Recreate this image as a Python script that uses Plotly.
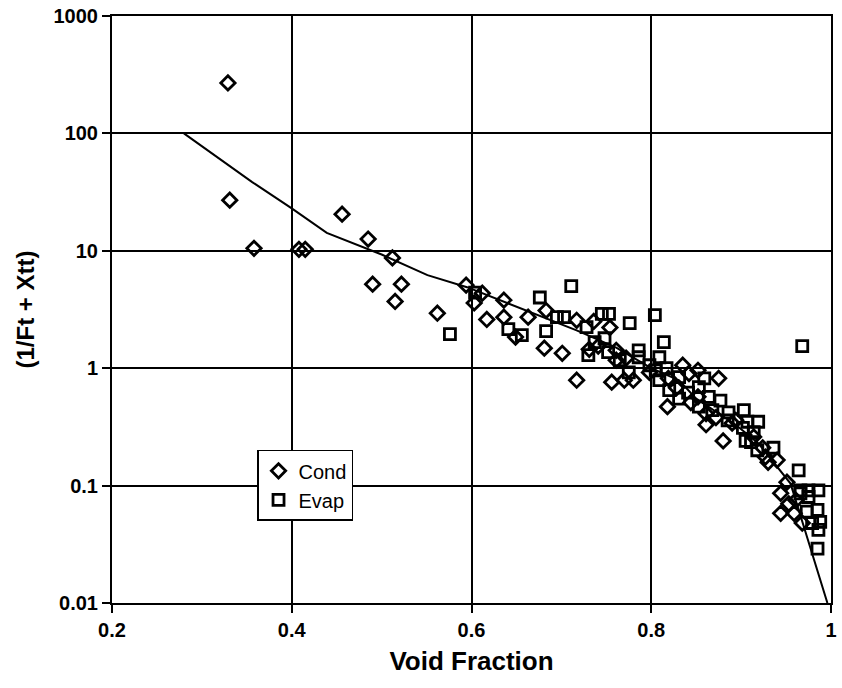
import plotly.graph_objects as go

# Cond (diamonds)
cond_x = [0.329, 0.331, 0.358, 0.408, 0.415, 0.456, 0.485, 0.512, 0.490, 0.522, 0.515, 0.562,
          0.594, 0.612, 0.603, 0.617, 0.636, 0.636, 0.649, 0.663, 0.683, 0.681, 0.701, 0.717,
          0.717, 0.736, 0.754, 0.731, 0.741, 0.761, 0.772, 0.761, 0.756, 0.770, 0.780, 0.798,
          0.819, 0.818, 0.828, 0.835, 0.842, 0.852, 0.875, 0.852, 0.844, 0.861, 0.861, 0.872,
          0.890, 0.880, 0.894, 0.914, 0.924, 0.927, 0.930, 0.940, 0.951, 0.944, 0.953, 0.961,
          0.944, 0.959, 0.968]
cond_y = [269, 27, 10.5, 10.3, 10.3, 20.5, 12.6, 8.7, 5.2, 5.2, 3.7, 2.94,
          5.1, 4.35, 3.6, 2.6, 3.8, 2.72, 1.84, 2.72, 3.1, 1.48, 1.34, 2.56,
          0.79, 2.5, 2.22, 1.45, 1.54, 1.42, 1.22, 1.17, 0.76, 0.79, 0.79, 0.92,
          0.82, 0.47, 0.68, 1.06, 0.9, 0.96, 0.82, 0.57, 0.51, 0.41, 0.33, 0.38,
          0.34, 0.24, 0.36, 0.26, 0.21, 0.175, 0.158, 0.165, 0.107, 0.086, 0.07, 0.075,
          0.058, 0.058, 0.048]

# Evap (squares)
evap_x = [0.576, 0.604, 0.641, 0.656, 0.676, 0.683, 0.711, 0.695, 0.703, 0.728, 0.745, 0.753,
          0.776, 0.804, 0.814, 0.748, 0.737, 0.730, 0.752, 0.765, 0.786, 0.786, 0.775, 0.798,
          0.809, 0.805, 0.817, 0.809, 0.820, 0.831, 0.859, 0.841, 0.853, 0.831, 0.864, 0.877,
          0.853, 0.868, 0.886, 0.903, 0.885, 0.907, 0.919, 0.902, 0.914, 0.905, 0.918, 0.911,
          0.936, 0.964, 0.968, 0.966, 0.975, 0.986, 0.966, 0.975, 0.985, 0.973, 0.988, 0.979,
          0.986, 0.985]
evap_y = [1.95, 4.4, 2.15, 1.91, 4.0, 2.07, 5.0, 2.72, 2.72, 2.24, 2.9, 2.9,
          2.42, 2.83, 1.67, 1.8, 1.67, 1.29, 1.37, 1.17, 1.42, 1.24, 0.92, 1.06,
          1.24, 0.96, 1.0, 0.79, 0.65, 0.84, 0.82, 0.62, 0.69, 0.55, 0.57, 0.53,
          0.47, 0.44, 0.42, 0.44, 0.36, 0.35, 0.35, 0.31, 0.285, 0.24, 0.2, 0.235,
          0.21, 0.135, 1.54, 0.091, 0.091, 0.091, 0.086, 0.08, 0.062, 0.06, 0.049, 0.048,
          0.042, 0.029]

# Correlation curve
line_x = [0.28, 0.356, 0.40, 0.439, 0.50, 0.551, 0.595, 0.717, 0.761, 0.80, 0.831, 0.85,
          0.894, 0.919, 0.955, 0.996]
line_y = [100, 38.5, 23, 14.2, 9.3, 6.2, 4.9, 2.1, 1.5, 1.0, 0.79, 0.55,
          0.33, 0.23, 0.104, 0.01]

x_ticks = [0.2, 0.4, 0.6, 0.8, 1.0]
x_ticklabels = ["0.2", "0.4", "0.6", "0.8", "1"]
y_ticks = [0.01, 0.1, 1, 10, 100, 1000]
y_ticklabels = ["0.01", "0.1", "1", "10", "100", "1000"]

FONT = "Liberation Sans, Arial, Helvetica, sans-serif"

fig = go.Figure()
fig.add_trace(go.Scatter(
    x=line_x, y=line_y, mode="lines", showlegend=False,
    line=dict(color="black", width=2)))
fig.add_trace(go.Scatter(
    x=cond_x, y=cond_y, mode="markers", name="Cond",
    marker=dict(symbol="diamond-open", size=11, color="black", line=dict(width=2.8, color="black"))))
fig.add_trace(go.Scatter(
    x=evap_x, y=evap_y, mode="markers", name="Evap",
    marker=dict(symbol="square-open", size=11, color="black", line=dict(width=2.8, color="black"))))

fig.update_layout(
    width=842, height=688,
    margin=dict(l=112, r=5, t=15, b=85),
    paper_bgcolor="white", plot_bgcolor="white",
    font=dict(family=FONT, color="black"),
    legend=dict(x=0.2017, y=0.261, xanchor="left", yanchor="top",
                bgcolor="white", bordercolor="black", borderwidth=1.5,
                font=dict(size=20, family=FONT, color="black"),
                itemwidth=30, tracegroupgap=0),
    xaxis=dict(range=[0.2, 1.0], tickvals=x_ticks, ticktext=x_ticklabels,
               showgrid=True, gridcolor="black", gridwidth=1.5,
               showline=True, linecolor="black", linewidth=2, mirror=True,
               ticks="outside", ticklen=8, tickwidth=1.5, tickcolor="black",
               tickfont=dict(size=20, family=FONT, weight="bold"),
               zeroline=False,
               title=dict(text="Void Fraction", font=dict(size=26, family=FONT, weight="bold"), standoff=12)),
    yaxis=dict(type="log", range=[-2, 3], tickvals=y_ticks, ticktext=y_ticklabels,
               showgrid=True, gridcolor="black", gridwidth=1.5,
               showline=True, linecolor="black", linewidth=2, mirror=True,
               ticks="outside", ticklen=8, tickwidth=1.5, tickcolor="black",
               tickfont=dict(size=20, family=FONT, weight="bold"),
               zeroline=False,
               title=dict(text="(1/Ft + Xtt)", font=dict(size=24, family=FONT, weight="bold"), standoff=12)),
)

fig.write_html("out.html")
